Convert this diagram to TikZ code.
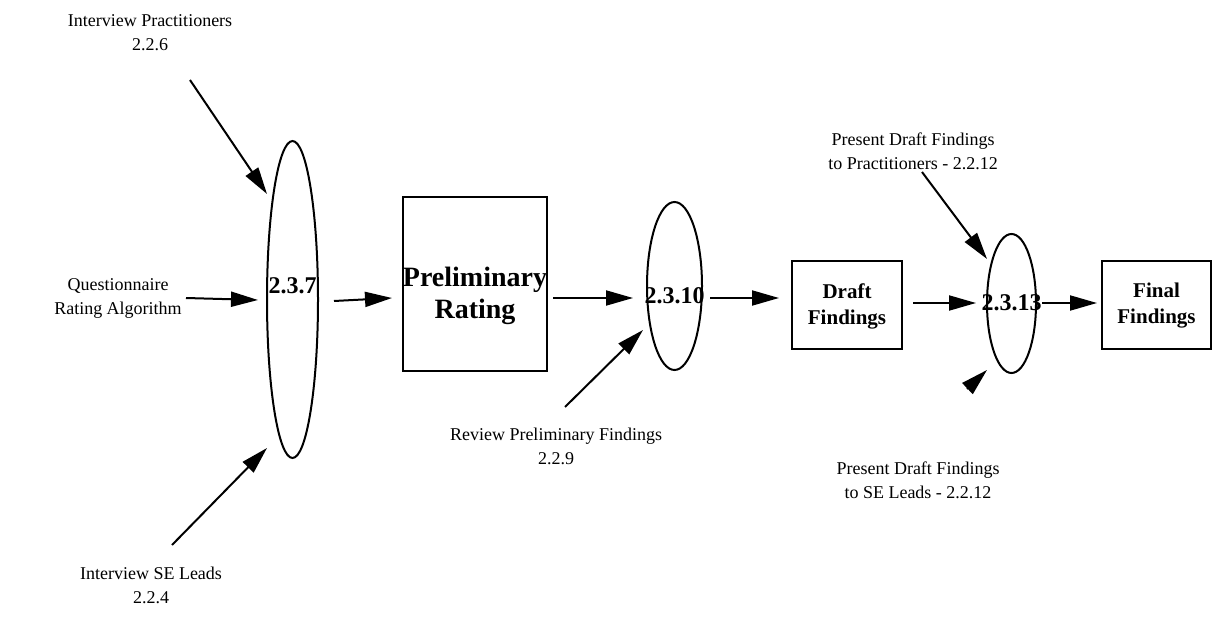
\documentclass[tikz,border=0pt]{standalone}
\usepackage{fontspec}
\setmainfont{Liberation Serif}
\usetikzlibrary{arrows.meta,shapes.geometric}
\begin{document}
\begin{tikzpicture}[x=1pt,y=-1pt,
  lbl/.style={align=center,font=\fontsize{18}{24}\selectfont,inner sep=0pt},
  ell/.style={draw,line width=2pt,ellipse,inner sep=0pt},
  bx/.style={draw,line width=2.2pt,inner sep=0pt},
  num/.style={font=\fontsize{24}{28}\bfseries\selectfont,inner sep=0pt},
  arr/.style={line width=2pt,-{Triangle[length=27pt,width=15pt]}}]
\useasboundingbox (0,0) rectangle (1212,620);
% ellipses
\node[ell,minimum width=51pt,minimum height=317pt] (e1) at (292.5,299.5) {};
\node[num] (t1) at (292.5,286) {2.3.7};
\node[ell,minimum width=55pt,minimum height=168pt] (e2) at (674.5,286) {};
\node[num] (t2) at (674.5,296) {2.3.10};
\node[ell,minimum width=49pt,minimum height=139pt] (e3) at (1011.5,303.5) {};
\node[num] (t3) at (1011.5,303) {2.3.13};
% boxes
\node[bx,minimum width=144pt,minimum height=174pt] (pr) at (475,284) {};
\node[align=center,font=\fontsize{28}{32}\bfseries\selectfont,inner sep=0pt] (prt) at (475,296) {Preliminary\\Rating};
\node[bx,minimum width=110pt,minimum height=88pt] (df) at (847,305) {};
\node[align=center,font=\fontsize{21}{26}\bfseries\selectfont,inner sep=0pt] (dft) at (847,306) {Draft\\Findings};
\node[bx,minimum width=109pt,minimum height=88pt] (ff) at (1156.5,305) {};
\node[align=center,font=\fontsize{21}{26}\bfseries\selectfont,inner sep=0pt] (fft) at (1156.5,306) {Final\\Findings};
% labels
\node[lbl] (ip) at (150,33) {Interview Practitioners\\2.2.6};
\node[lbl] (qa) at (118,298) {Questionnaire\\Rating Algorithm};
\node[lbl] (rp) at (556,446) {Review Preliminary Findings\\2.2.9};
\node[lbl] (pp) at (913,151) {Present Draft Findings\\to Practitioners - 2.2.12};
\node[lbl] (ps) at (918,480) {Present Draft Findings\\to SE Leads - 2.2.12};
\node[lbl] (is) at (151,585) {Interview SE Leads\\2.2.4};
% connector end points
\coordinate (ipa) at (190,80);   \coordinate (ipb) at (267,194);
\coordinate (qaa) at (186,298);  \coordinate (qab) at (258,300);
\coordinate (e1a) at (334,301);  \coordinate (e1b) at (392,298);
\coordinate (pra) at (553,298);  \coordinate (prb) at (633,298);
\coordinate (e2a) at (710,298);  \coordinate (e2b) at (779,298);
\coordinate (dfa) at (913,303);  \coordinate (dfb) at (976,303);
\coordinate (e3a) at (1042,303); \coordinate (e3b) at (1097,303);
\coordinate (ppa) at (922,172);  \coordinate (ppb) at (987,259);
\coordinate (psa) at (967,389);  \coordinate (psb) at (987,370);
\coordinate (rpa) at (565,407);  \coordinate (rpb) at (643,330);
\coordinate (isa) at (172,545);  \coordinate (isb) at (267,448);
\draw[arr] (ipa) -- (ipb);
\draw[arr] (qaa) -- (qab);
\draw[arr] (e1a) -- (e1b);
\draw[arr] (pra) -- (prb);
\draw[arr] (e2a) -- (e2b);
\draw[arr] (dfa) -- (dfb);
\draw[arr] (e3a) -- (e3b);
\draw[arr] (ppa) -- (ppb);
\draw[arr] (psa) -- (psb);
\draw[arr] (rpa) -- (rpb);
\draw[arr] (isa) -- (isb);
\end{tikzpicture}
\end{document}
